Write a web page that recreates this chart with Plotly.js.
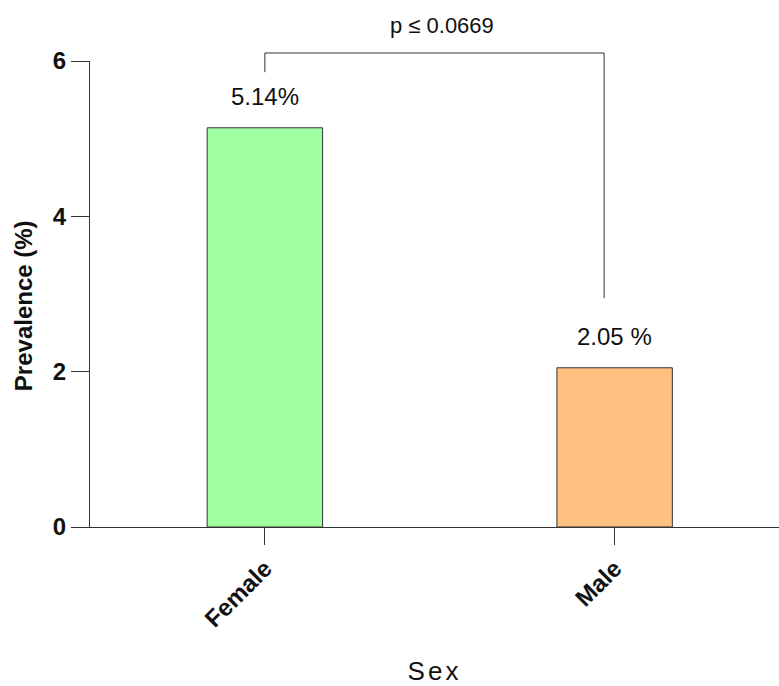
<!DOCTYPE html>
<html>
<head>
<meta charset="utf-8">
<script src="https://cdn.plot.ly/plotly-3.0.1.min.js"></script>
<style>
html,body{margin:0;padding:0;background:#fff;}
#chart{width:779px;height:686px;}
.xtitle{letter-spacing:3px;}
</style>
</head>
<body>
<div id="chart"></div>
<script>
const categories = ["Female", "Male"];
const prevalence = [5.14, 2.05];
const valueLabels = ["5.14%", "2.05 %"];
const barColors = ["#a0ffa0", "#ffc080"];
const yTicks = [0, 2, 4, 6];
const pLabel = "p \u2264 0.0669";
const yTitle = "Prevalence (%)";
const xTitle = "Sex";

const FONT = "Arial, Liberation Sans, sans-serif";

const trace = {
  type: "bar",
  x: categories,
  y: prevalence,
  width: 0.33,
  marker: {color: barColors, line: {color: "#333333", width: 1}},
  hoverinfo: "none"
};

const annotations = categories.map((c, i) => ({
  x: c, y: prevalence[i], xref: "x", yref: "y",
  text: valueLabels[i], showarrow: false,
  yanchor: "bottom", yshift: 16,
  font: {family: FONT, size: 24, color: "#111"}
}));
annotations.push({
  x: 0.5, y: 1.0172, xref: "x", yref: "paper",
  text: pLabel, showarrow: false, yanchor: "bottom", yshift: 13, xshift: 2,
  font: {family: FONT, size: 22, color: "#111"}
});
annotations.push({
  x: -0.0972, y: 0.474, xref: "paper", yref: "paper",
  text: yTitle, showarrow: false, textangle: -90,
  xanchor: "center", yanchor: "middle",
  font: {family: FONT, size: 24, weight: "bold", color: "#111"}
});

const lineStyle = {color: "#333333", width: 1};
const shapes = [
  {type: "line", xref: "x", yref: "paper", x0: 0, x1: 0.97, y0: 1.0172, y1: 1.0172, line: lineStyle},
  {type: "line", xref: "x", yref: "paper", x0: 0, x1: 0, y0: 1.0172, y1: 0.976, line: lineStyle},
  {type: "line", xref: "x", yref: "paper", x0: 0.97, x1: 0.97, y0: 1.0172, y1: 0.491, line: lineStyle}
];

const layout = {
  width: 779, height: 686,
  margin: {l: 90, r: 0, t: 61, b: 159},
  paper_bgcolor: "#fff", plot_bgcolor: "#fff",
  showlegend: false,
  font: {family: FONT, color: "#111"},
  xaxis: {
    range: [-0.5, 1.47],
    showgrid: false, zeroline: false,
    showline: true, linecolor: "#333", linewidth: 1,
    ticks: "outside", ticklen: 17, tickcolor: "#333", tickwidth: 1,
    tickangle: -45,
    tickfont: {family: FONT, size: 24, weight: "bold", color: "#111"},
    title: {text: xTitle, font: {family: FONT, size: 26, color: "#111"}, standoff: 32}
  },
  yaxis: {
    range: [0, 6],
    tickvals: yTicks,
    showgrid: false, zeroline: false,
    showline: true, linecolor: "#333", linewidth: 1,
    ticks: "outside", ticklen: 18, tickcolor: "#333", tickwidth: 1,
    tickfont: {family: FONT, size: 24, weight: "bold", color: "#111"}
  },
  annotations: annotations,
  shapes: shapes
};

Plotly.newPlot("chart", [trace], layout, {staticPlot: true, displayModeBar: false});
</script>
</body>
</html>
